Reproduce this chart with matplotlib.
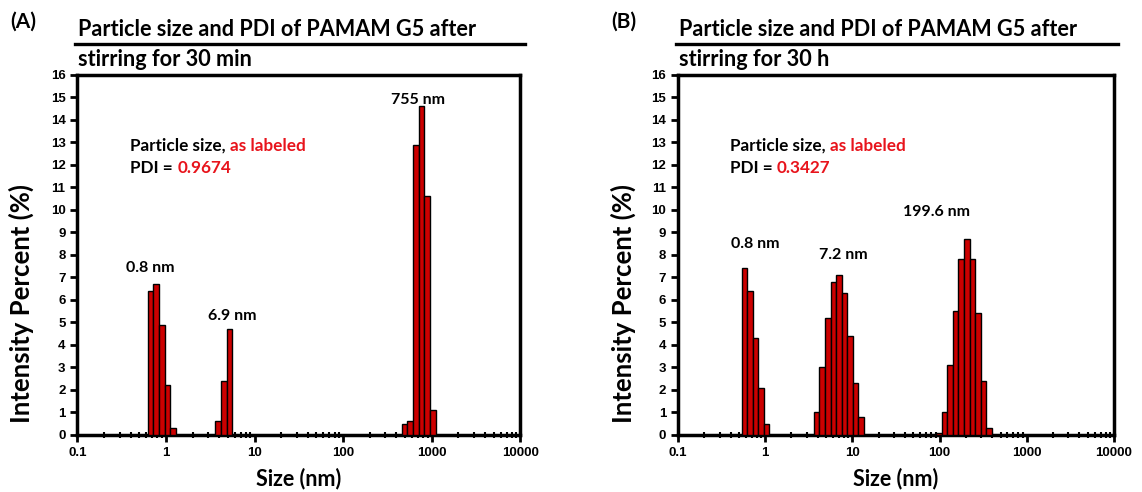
import numpy as np
import matplotlib
matplotlib.use("Agg")
from matplotlib import pyplot as plt
from matplotlib.ticker import LogLocator, NullFormatter

# DLS size bins (nm, left edge of each bar) and intensity (%)
bin_ratio = 1.1581  # Malvern bin spacing

sizes_a = [0.6213, 0.7195, 0.8332, 0.9649, 1.117,
           3.615, 4.187, 4.849,
           458.7, 531.2, 615.1, 712.4, 825.0, 955.4]
intens_a = [6.4, 6.7, 4.9, 2.2, 0.3,
            0.6, 2.4, 4.7,
            0.5, 0.6, 12.9, 14.6, 10.6, 1.1]

sizes_b = [0.5365, 0.6213, 0.7195, 0.8332, 0.9649,
           3.615, 4.187, 4.849, 5.615, 6.503, 7.531, 8.721, 10.10, 11.70,
           91.28, 105.7, 122.4, 141.8, 164.2, 190.1, 220.2, 255.0, 295.3, 342.0]
intens_b = [7.4, 6.4, 4.3, 2.1, 0.5,
            1.0, 3.0, 5.2, 6.8, 7.1, 6.3, 4.4, 2.3, 0.8,
            0.1, 1.0, 3.1, 5.5, 7.8, 8.7, 7.8, 5.4, 2.4, 0.3]

peaks_a = ["0.8 nm", "6.9 nm", "755 nm"]
peaks_a_pos = [(0.66, 7.4), (5.6, 5.3), (708, 14.9)]
peaks_b = ["0.8 nm", "7.2 nm", "199.6 nm"]
peaks_b_pos = [(0.77, 8.5), (7.8, 8.0), (92, 9.9)]

pdi_a = "0.9674"
pdi_b = "0.3427"
title_top = "Particle size and PDI of PAMAM G5 after"
title_a = "stirring for 30 min"
title_b = "stirring for 30 h"

xticks = [0.1, 1, 10, 100, 1000, 10000]
xticklabels = ["0.1", "1", "10", "100", "1000", "10000"]
yticks = list(range(0, 17))

txt_font = "Lato"
tick_font = "Liberation Sans"
red = "#e8141c"


def panel(ax, sizes, intens, peaks, peak_pos, pdi, sub, letter):
    s = np.array(sizes)
    ax.bar(s, intens, width=s * (bin_ratio - 1), align="edge",
           color="#cc0000", edgecolor="black", linewidth=1.0, zorder=3)
    ax.set_xscale("log")
    ax.set_xlim(0.1, 10000)
    ax.set_ylim(0, 16)
    ax.set_xticks(xticks)
    ax.set_xticklabels(xticklabels)
    ax.xaxis.set_minor_locator(LogLocator(base=10, subs=np.arange(2, 10)))
    ax.xaxis.set_minor_formatter(NullFormatter())
    ax.set_yticks(yticks)
    for sp in ax.spines.values():
        sp.set_linewidth(2.5)
    ax.tick_params(axis="both", which="major", direction="out", width=2,
                   length=5, labelsize=9.5)
    ax.tick_params(axis="x", which="minor", direction="inout", width=1.5, length=4)
    for lab in ax.get_xticklabels() + ax.get_yticklabels():
        lab.set_fontfamily(tick_font)
        lab.set_fontweight("bold")
    ax.set_xlabel("Size (nm)", fontsize=15.5, fontweight="bold", family=txt_font)
    ax.xaxis.set_label_coords(0.5, -0.09)
    ax.set_ylabel("Intensity Percent (%)", fontsize=18.5, fontweight="bold",
                  family=txt_font)
    ax.yaxis.set_label_coords(-0.097, 0.365)

    for lab, (x, y) in zip(peaks, peak_pos):
        ax.text(x, y, lab, ha="center", va="center", fontsize=11.5,
                fontweight="bold", family=txt_font)

    t1 = ax.text(0.12, 0.803, "Particle size, ", transform=ax.transAxes,
                 ha="left", va="center", fontsize=12.3, fontweight="bold", family=txt_font)
    ax.annotate("as labeled", xy=(1, 0), xycoords=t1, va="bottom", ha="left",
                fontsize=12.3, fontweight="bold", family=txt_font, color=red)
    t2 = ax.text(0.12, 0.742, "PDI = ", transform=ax.transAxes,
                 ha="left", va="center", fontsize=12.3, fontweight="bold", family=txt_font)
    ax.annotate(pdi, xy=(1, 0), xycoords=t2, va="bottom", ha="left",
                fontsize=12.3, fontweight="bold", family=txt_font, color=red)

    # two-line heading split by a rule
    ax.text(0.002, 1.125, title_top, transform=ax.transAxes, ha="left", va="center",
            fontsize=15.6, fontweight="bold", family=txt_font)
    ax.plot([-0.005, 1.01], [1.086, 1.086], color="black", lw=2.4,
            transform=ax.transAxes, clip_on=False)
    ax.text(0.002, 1.042, sub, transform=ax.transAxes, ha="left", va="center",
            fontsize=15.6, fontweight="bold", family=txt_font)
    ax.text(-0.152, 1.147, letter, transform=ax.transAxes, ha="left", va="center",
            fontsize=15, fontweight="bold", family=txt_font)


fig = plt.figure(figsize=(11.42, 4.92), dpi=100)
ax_a = fig.add_axes([0.0677, 0.1159, 0.3879, 0.7317])
ax_b = fig.add_axes([0.5937, 0.1159, 0.3818, 0.7317])

panel(ax_a, sizes_a, intens_a, peaks_a, peaks_a_pos, pdi_a, title_a, "(A)")
panel(ax_b, sizes_b, intens_b, peaks_b, peaks_b_pos, pdi_b, title_b, "(B)")

fig.savefig("out.png", dpi=100)
